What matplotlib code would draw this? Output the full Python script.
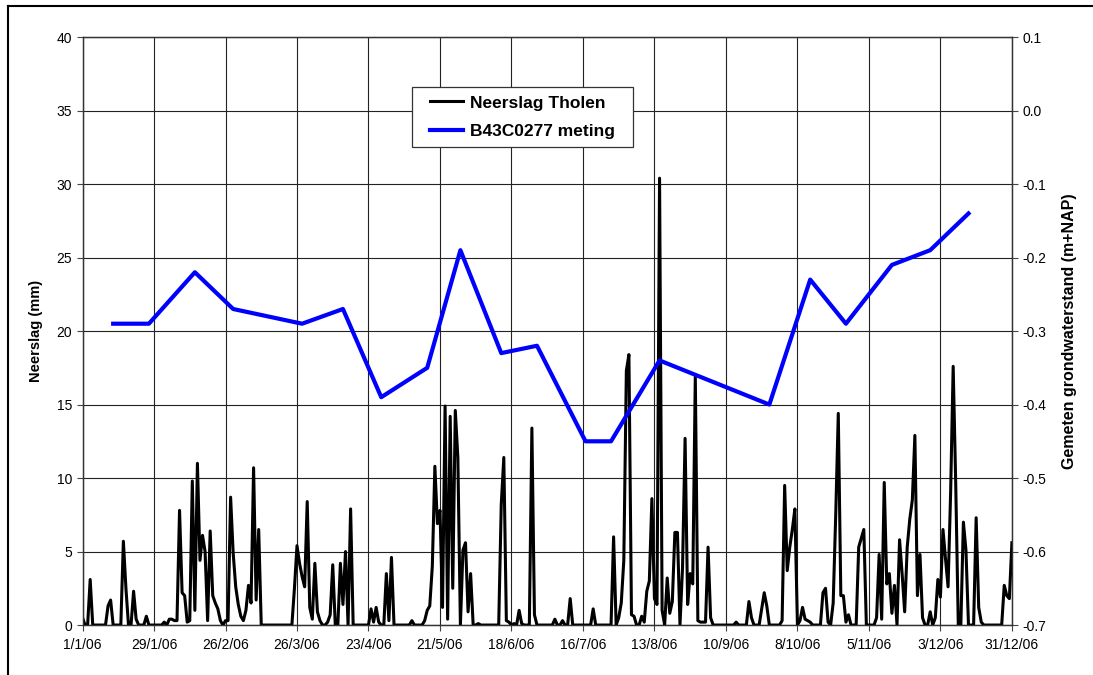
import matplotlib
matplotlib.use('Agg')
import matplotlib.pyplot as plt
from matplotlib.lines import Line2D
from matplotlib.patches import Rectangle
import pandas as pd

plt.rcParams['font.family'] = ['Liberation Sans', 'DejaVu Sans']
plt.rcParams['axes.unicode_minus'] = False

# dagelijkse neerslag Tholen 2006 (mm), per maand
neerslag_jan = [0.5, 0, 0, 3.1, 0, 0, 0, 0, 0, 0, 1.3, 1.7, 0, 0, 0, 0, 5.7, 2.5, 0, 0,
                2.3, 0.4, 0, 0, 0, 0.6, 0, 0, 0, 0, 0]
neerslag_feb = [0, 0.2, 0, 0.4, 0.4, 0.3, 0.3, 7.8, 2.2, 2.0, 0.2, 0.3, 9.8, 1.0, 11.0, 4.4,
                6.1, 5.0, 0.3, 6.4, 2.0, 1.5, 1.1, 0.3, 0, 0.3, 0.3, 8.7]
neerslag_mrt = [4.9, 2.6, 1.4, 0.6, 0.3, 1.0, 2.7, 1.5, 10.7, 1.7, 6.5, 0, 0, 0, 0, 0, 0, 0,
                0, 0, 0, 0, 0, 0, 2.5, 5.4, 4.2, 3.3, 2.6, 8.4, 1.2]
neerslag_apr = [0.4, 4.2, 0.9, 0.3, 0, 0, 0.2, 0.7, 4.1, 0, 0, 4.2, 1.4, 5.0, 0, 7.9, 0, 0,
                0, 0, 0, 0, 0, 1.1, 0.2, 1.2, 0.2, 0, 0, 3.5]
neerslag_mei = [0.3, 4.6, 0, 0, 0, 0, 0, 0, 0, 0.3, 0, 0, 0, 0, 0.3, 1.0, 1.3, 4.0, 10.8,
                6.9, 7.8, 1.2, 14.9, 0.4, 14.2, 2.5, 14.6, 11.4, 0, 5.1, 5.6]
neerslag_jun = [0.9, 3.5, 0, 0, 0.1, 0, 0, 0, 0, 0, 0, 0, 0, 8.2, 11.4, 0.3, 0.2, 0, 0.1, 0,
                1.0, 0.1, 0, 0, 0, 13.4, 0.7, 0, 0, 0]
neerslag_jul = [0, 0, 0, 0, 0.4, 0, 0, 0.3, 0, 0, 1.8, 0, 0, 0, 0, 0, 0, 0, 0, 1.1, 0, 0, 0,
                0, 0, 0, 0, 6.0, 0, 0.5, 1.5]
neerslag_aug = [4.4, 17.3, 18.4, 0.7, 0.6, 0, 0, 0.6, 0.2, 2.3, 3.0, 8.6, 1.8, 1.4, 30.4, 1.0,
                0, 3.2, 0.8, 1.6, 6.3, 6.3, 0, 3.9, 12.7, 1.4, 3.5, 2.8, 16.9, 0.3, 0.2]
neerslag_sep = [0.2, 0.2, 5.3, 0.5, 0, 0, 0, 0, 0, 0, 0, 0, 0, 0.2, 0, 0, 0, 0, 1.6, 0.5, 0,
                0, 0, 1.1, 2.2, 1.3, 0, 0, 0, 0]
neerslag_okt = [0, 0.3, 9.5, 3.7, 5.3, 6.5, 7.9, 0, 0.3, 1.2, 0.4, 0.3, 0.2, 0, 0, 0, 0, 2.2,
                2.5, 0.2, 0, 1.5, 7.5, 14.4, 2.0, 2.0, 0.2, 0.7, 0, 0, 0]
neerslag_nov = [5.3, 5.9, 6.5, 0, 0, 0, 0, 0.5, 4.8, 0.4, 9.7, 2.8, 3.5, 0.8, 2.7, 0, 5.8, 3.5,
                0.9, 5.3, 7.2, 8.5, 12.9, 2.0, 4.8, 0.5, 0, 0, 0.9, 0]
neerslag_dec = [0.5, 3.1, 1.9, 6.5, 4.5, 2.6, 9.0, 17.6, 9.6, 0, 0, 7.0, 5.1, 0, 0, 0, 7.3,
                1.2, 0.2, 0, 0, 0, 0, 0, 0, 0, 0, 2.7, 2.0, 1.8, 5.6]

# peilbuis B43C0277, gemeten grondwaterstand (m+NAP)
meting_datum = ['2006-01-13', '2006-01-27', '2006-02-14', '2006-03-01', '2006-03-28',
                '2006-04-13', '2006-04-28', '2006-05-16', '2006-05-29', '2006-06-14',
                '2006-06-28', '2006-07-17', '2006-07-27', '2006-08-15', '2006-09-27',
                '2006-10-13', '2006-10-27', '2006-11-14', '2006-11-29', '2006-12-14']
meting_stand = [-0.29, -0.29, -0.22, -0.27, -0.29, -0.27, -0.39, -0.35, -0.19, -0.33,
                -0.32, -0.45, -0.45, -0.34, -0.40, -0.23, -0.29, -0.21, -0.19, -0.14]

x_labels = ['1/1/06', '29/1/06', '26/2/06', '26/3/06', '23/4/06', '21/5/06', '18/6/06',
            '16/7/06', '13/8/06', '10/9/06', '8/10/06', '5/11/06', '3/12/06', '31/12/06']
links_ticks = [0, 5, 10, 15, 20, 25, 30, 35, 40]
rechts_ticks = [-0.7, -0.6, -0.5, -0.4, -0.3, -0.2, -0.1, 0.0, 0.1]


def create_graph():
    neerslag = (neerslag_jan + neerslag_feb + neerslag_mrt + neerslag_apr + neerslag_mei
                + neerslag_jun + neerslag_jul + neerslag_aug + neerslag_sep + neerslag_okt
                + neerslag_nov + neerslag_dec)
    dagen = pd.date_range('2006-01-01', periods=len(neerslag), freq='D')
    x_ticks = pd.to_datetime(x_labels, format='%d/%m/%y')

    fig = plt.figure(figsize=(10.93, 6.75), dpi=100)
    ax = fig.add_axes([0.0755, 0.074, 0.8503, 0.8711])

    ax.plot(dagen, neerslag, color='black', lw=2.2, zorder=3, label='Neerslag Tholen')
    ax.set_xlim(dagen[0], dagen[-1])
    ax.set_ylim(0, 40)
    ax.set_yticks(links_ticks)
    ax.set_xticks(x_ticks)
    ax.set_xticklabels(x_labels)
    ax.grid(True, color='#222222', lw=0.8)
    ax.set_axisbelow(True)
    ax.tick_params(labelsize=10, length=4, width=0.8, color='#444444')
    ax.tick_params(axis='x', pad=5)
    ax.set_ylabel('Neerslag (mm)', fontsize=10.5, fontweight='bold')
    ax.yaxis.set_label_coords(-0.0425, 0.5)

    ax2 = ax.twinx()
    ax2.plot(pd.to_datetime(meting_datum), meting_stand, color='#0000ff', lw=3,
             label='B43C0277 meting')
    ax2.set_ylim(-0.7, 0.1)
    ax2.set_yticks(rechts_ticks)
    ax2.set_yticklabels([f'{v:.1f}' for v in rechts_ticks])
    ax2.tick_params(labelsize=10, length=4, width=0.8, color='#444444')
    ax2.set_ylabel('Gemeten grondwaterstand (m+NAP)', fontsize=11.5, fontweight='bold')
    ax2.yaxis.set_label_coords(1.0544, 0.5)

    for a in (ax, ax2):
        for s in a.spines.values():
            s.set_color('#333333')
            s.set_linewidth(0.9)

    # legenda met eigen kader
    kader = Rectangle((0.3547, 0.8129), 0.2379, 0.102, transform=ax2.transAxes,
                      facecolor='white', edgecolor='#333333', lw=0.9, zorder=4)
    ax2.add_patch(kader)
    handles = ax.get_lines()[:1] + ax2.get_lines()[:1]
    leg = ax2.legend(handles, [h.get_label() for h in handles], loc='center',
                     bbox_to_anchor=(0.4736, 0.864), frameon=False,
                     handlelength=1.9, handletextpad=0.4, labelspacing=0.75,
                     borderpad=0, borderaxespad=0,
                     prop={'weight': 'bold', 'size': 12.5})
    leg.set_zorder(5)

    # kader rond de grafiek
    fig.add_artist(Line2D([8 / 1093, 1], [1 - 6 / 675, 1 - 6 / 675],
                          transform=fig.transFigure, color='black', lw=1.5))
    fig.add_artist(Line2D([8 / 1093, 8 / 1093], [0, 1 - 6 / 675],
                          transform=fig.transFigure, color='black', lw=1.5))

    fig.savefig('out.png', dpi=100)


create_graph()
